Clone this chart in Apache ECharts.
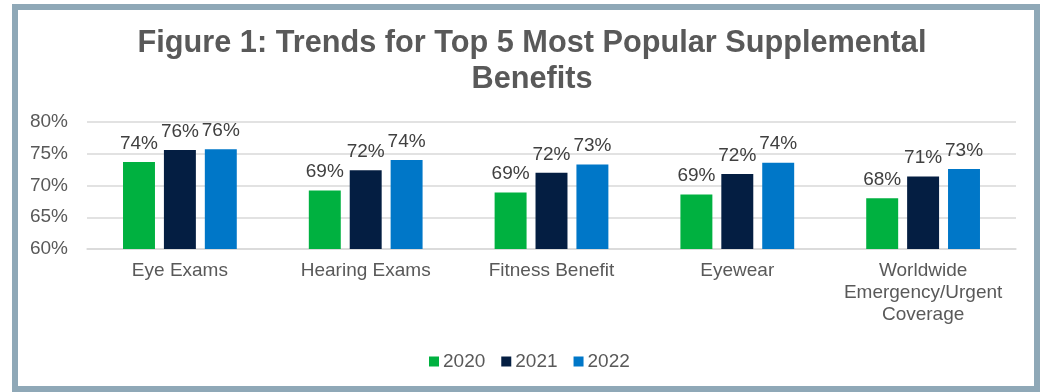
<!DOCTYPE html>
<html>
<head>
<meta charset="utf-8">
<title>Figure 1: Trends for Top 5 Most Popular Supplemental Benefits</title>
<script src="https://cdn.jsdelivr.net/npm/echarts@6/dist/echarts.min.js"></script>
<style>
  html, body { margin: 0; padding: 0; background: #ffffff; }
  #chart { width: 1040px; height: 392px; }
</style>
</head>
<body>
<div id="chart"></div>
<script>
// Share of plans offering each supplemental benefit, by year (percent)
const categories = ['Eye Exams', 'Hearing Exams', 'Fitness Benefit', 'Eyewear', 'Worldwide\nEmergency/Urgent\nCoverage'];
const years = ['2020', '2021', '2022'];
const values2020 = [73.7, 69.2, 68.9, 68.6, 68.0];
const values2021 = [75.6, 72.4, 72.0, 71.8, 71.4];
const values2022 = [75.7, 74.0, 73.3, 73.6, 72.6];
const yTicks = [60, 65, 70, 75, 80];

const seriesValues = [values2020, values2021, values2022];
const colors = ['#00b140', '#041e42', '#0077c8'];
const font = 'Arial, "Liberation Sans", sans-serif';

const chart = echarts.init(document.getElementById('chart'), null, { renderer: 'canvas' });

chart.setOption({
  backgroundColor: '#ffffff',
  animation: false,
  color: colors,
  title: {
    text: 'Figure 1: Trends for Top 5 Most Popular Supplemental\nBenefits',
    left: 527,
    top: 21,
    textAlign: 'center',
    textStyle: {
      fontFamily: font,
      fontSize: 30.7,
      fontWeight: 'bold',
      color: '#595959',
      lineHeight: 36
    }
  },
  graphic: [{
    type: 'rect',
    shape: { x: 15, y: 7, width: 1022, height: 382 },
    style: { fill: 'none', stroke: '#8fa8b7', lineWidth: 6 },
    silent: true,
    z: 100
  }],
  legend: {
    data: years,
    bottom: 16,
    left: 424,
    itemWidth: 10,
    itemHeight: 10,
    itemGap: 16,
    icon: 'rect',
    textStyle: { fontFamily: font, fontSize: 19, color: '#595959', padding: [0, 0, 0, -1] }
  },
  grid: { left: 87, right: 24, top: 122, bottom: 143 },
  xAxis: {
    type: 'category',
    data: categories,
    axisTick: { show: false },
    axisLine: { lineStyle: { color: '#d9d9d9', width: 1.5 } },
    axisLabel: {
      fontFamily: font,
      fontSize: 19,
      color: '#595959',
      lineHeight: 22,
      margin: 11,
      interval: 0
    }
  },
  yAxis: {
    type: 'value',
    min: yTicks[0],
    max: yTicks[yTicks.length - 1],
    interval: 5,
    axisLine: { show: false },
    axisTick: { show: false },
    splitLine: { lineStyle: { color: '#d9d9d9', width: 1.5 } },
    axisLabel: {
      fontFamily: font,
      fontSize: 19,
      color: '#595959',
      margin: 19,
      formatter: v => v + '%'
    }
  },
  series: years.map((year, i) => ({
    name: year,
    type: 'bar',
    data: seriesValues[i],
    barWidth: '17.2%',
    barGap: '28%',
    itemStyle: { color: colors[i] },
    label: {
      show: true,
      position: 'top',
      distance: 9,
      fontFamily: font,
      fontSize: 19,
      color: '#404040',
      formatter: p => Math.round(p.value) + '%'
    }
  }))
});
</script>
</body>
</html>
